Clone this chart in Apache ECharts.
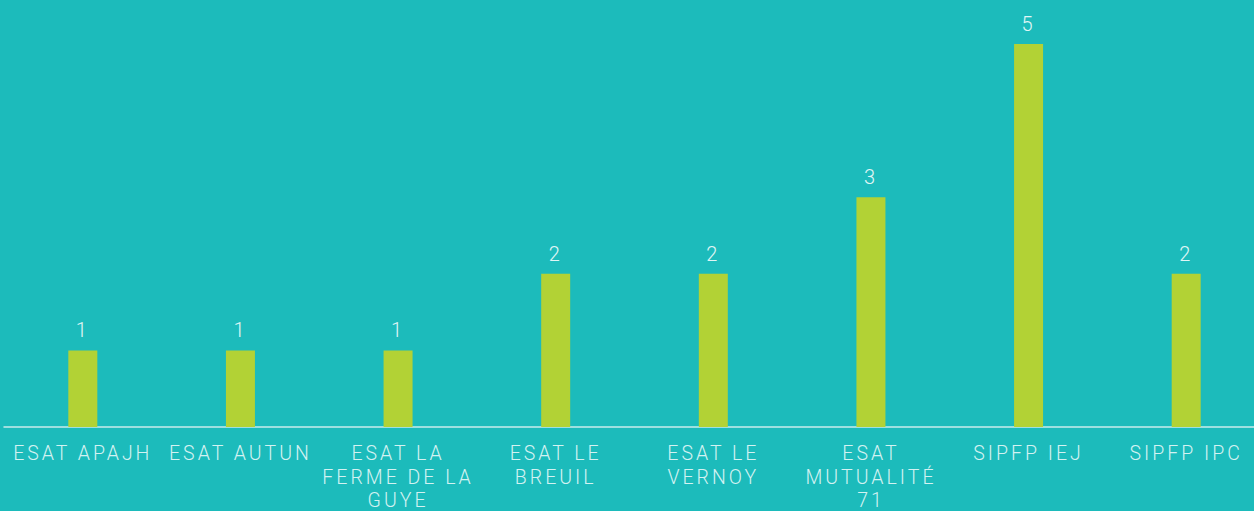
<!DOCTYPE html>
<html>
<head>
<meta charset="utf-8">
<script src="https://cdn.jsdelivr.net/npm/echarts@6/dist/echarts.min.js"></script>
<style>
  html, body { margin: 0; padding: 0; background: #1cbbbb; }
  #chart { width: 1254px; height: 511px; overflow: hidden; }
  #chart text { letter-spacing: 3px; }
</style>
</head>
<body>
<div id="chart"></div>
<script>
  var categories = ['ESAT APAJH', 'ESAT AUTUN', 'ESAT LA\nFERME DE LA\nGUYE', 'ESAT LE\nBREUIL',
    'ESAT LE\nVERNOY', 'ESAT\nMUTUALITÉ\n71', 'SIPFP IEJ', 'SIPFP IPC'];
  var values = [1, 1, 1, 2, 2, 3, 5, 2];

  var myChart = echarts.init(document.getElementById('chart'), null, { renderer: 'svg' });
  var option = {
    backgroundColor: '#1cbbbb',
    animation: false,
    grid: { left: 4, width: 1261, top: 44, bottom: 84, outerBoundsMode: 'none', containLabel: false },
    xAxis: {
      type: 'category',
      data: categories,
      axisLine: { lineStyle: { color: '#c8ecec', width: 1.5 } },
      axisTick: { show: false },
      axisLabel: {
        color: '#d3f2f2',
        fontFamily: 'Roboto',
        fontWeight: 300,
        fontSize: 19.5,
        lineHeight: 23.5,
        margin: 15,
        interval: 0
      }
    },
    yAxis: {
      type: 'value',
      min: 0,
      max: 5,
      show: false,
      splitLine: { show: false }
    },
    series: [{
      type: 'bar',
      data: values,
      barWidth: 29,
      itemStyle: { color: '#b2d235' },
      label: {
        show: true,
        position: 'top',
        distance: 10,
        color: '#e0f6f6',
        fontFamily: 'Roboto',
        fontWeight: 300,
        fontSize: 20
      }
    }]
  };
  myChart.setOption(option);
</script>
</body>
</html>
